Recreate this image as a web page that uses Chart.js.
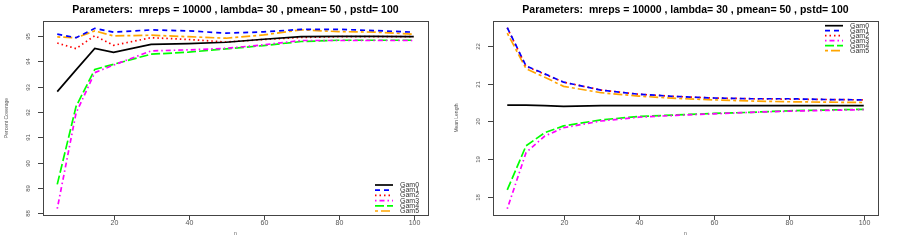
<!DOCTYPE html>
<html>
<head>
<meta charset="utf-8">
<script src="https://cdn.jsdelivr.net/npm/chart.js@4/dist/chart.umd.min.js"></script>
<style>
html,body{margin:0;padding:0;background:#fff;}
#wrap{position:relative;width:900px;height:242px;}
canvas{position:absolute;top:0;}
#c1{left:0;} #c2{left:450px;}
</style>
</head>
<body>
<div id="wrap">
<canvas id="c1" width="450" height="242"></canvas>
<canvas id="c2" width="450" height="242"></canvas>
</div>
<script>
const titleText = "Parameters:  mreps = 10000 , lambda= 30 , pmean= 50 , pstd= 100";
const seriesNames = ["Gam0","Gam1","Gam2","Gam3","Gam4","Gam5"];
const nValues = [5,10,15,20,30,40,50,60,70,80,90,100];
const xTicks = [20,40,60,80,100];
const coverageTicks = [88,89,90,91,92,93,94,95];
const lengthTicks = [18,19,20,21,22];

const coverageGam0 = [92.80,93.66,94.51,94.35,94.67,94.70,94.75,94.87,94.97,94.98,94.98,94.97];
const coverageGam1 = [95.07,94.93,95.30,95.15,95.24,95.20,95.11,95.16,95.26,95.26,95.21,95.15];
const coverageGam2 = [94.72,94.50,95.01,94.63,94.93,94.86,94.76,94.86,94.94,94.97,94.97,94.97];
const coverageGam3 = [88.18,91.95,93.55,93.85,94.41,94.45,94.51,94.65,94.82,94.82,94.82,94.82];
const coverageGam4 = [89.14,92.21,93.68,93.88,94.28,94.36,94.49,94.62,94.78,94.83,94.83,94.83];
const coverageGam5 = [94.96,94.93,95.20,95.00,95.03,94.97,94.91,95.04,95.24,95.17,95.15,95.07];

const lengthGam0 = [20.43,20.43,20.42,20.40,20.42,20.42,20.42,20.42,20.42,20.42,20.42,20.42];
const lengthGam1 = [22.49,21.47,21.26,21.04,20.83,20.72,20.66,20.62,20.60,20.60,20.58,20.57];
const lengthGam2 = [22.48,21.46,21.25,21.04,20.83,20.72,20.66,20.62,20.60,20.59,20.58,20.57];
const lengthGam3 = [17.68,19.17,19.61,19.83,20.01,20.11,20.16,20.20,20.24,20.27,20.29,20.31];
const lengthGam4 = [18.18,19.35,19.70,19.88,20.04,20.13,20.17,20.21,20.24,20.28,20.30,20.32];
const lengthGam5 = [22.34,21.40,21.17,20.93,20.76,20.67,20.61,20.57,20.54,20.52,20.51,20.50];

const colors = ["#000000","#0000ff","#ff0000","#ff00ff","#00ff00","#ffa500"];
const dashes = [[],[5,4],[1.5,3],[1.5,3,5,3],[9,3],[3,3,9,3]];
const FONT = "'Liberation Sans', Arial, sans-serif";

function makeDatasets(arrs){
  return arrs.map((a,i)=>({
    label: seriesNames[i],
    data: nValues.map((n,j)=>({x:n,y:a[j]})),
    borderColor: colors[i],
    borderWidth: 1.7,
    borderDash: dashes[i],
    pointRadius: 0,
    fill: false,
    tension: 0
  }));
}

const decorPlugin = {
  id: 'decor',
  afterDraw(chart, args, opts){
    const ctx = chart.ctx;
    const ca = chart.chartArea;
    const xs = chart.scales.x, ys = chart.scales.y;
    ctx.save();
    ctx.strokeStyle = "#444";
    ctx.lineWidth = 1;
    ctx.setLineDash([]);
    ctx.strokeRect(Math.round(ca.left)+0.5, Math.round(ca.top)+0.5, Math.round(ca.right-ca.left), Math.round(ca.bottom-ca.top));
    ctx.fillStyle = "#555";
    ctx.font = "7px " + FONT;
    ctx.textAlign = "center";
    ctx.textBaseline = "middle";
    xTicks.forEach(v=>{
      const px = Math.round(xs.getPixelForValue(v))+0.5;
      ctx.beginPath(); ctx.moveTo(px, ca.bottom); ctx.lineTo(px, ca.bottom+5); ctx.stroke();
      ctx.fillText(String(v), px, ca.bottom+8);
    });
    ctx.font = "6px " + FONT;
    opts.yTicks.forEach(v=>{
      const py = Math.round(ys.getPixelForValue(v))+0.5;
      ctx.beginPath(); ctx.moveTo(ca.left-5, py); ctx.lineTo(ca.left, py); ctx.stroke();
      ctx.save();
      ctx.translate(ca.left-15, py);
      ctx.rotate(-Math.PI/2);
      ctx.fillText(String(v), 0, 0);
      ctx.restore();
    });
    ctx.font = "5px " + FONT;
    ctx.fillText("n", (ca.left+ca.right)/2, 234);
    ctx.save();
    ctx.translate(7, (ca.top+ca.bottom)/2);
    ctx.rotate(-Math.PI/2);
    ctx.fillText(opts.yTitle, 0, 0);
    ctx.restore();
    ctx.fillStyle = "#000";
    ctx.font = "bold 10.5px " + FONT;
    ctx.fillText(titleText, (ca.left+ca.right)/2, 10);
    const L = opts.legend;
    ctx.font = "7px " + FONT;
    ctx.textAlign = "left";
    chart.data.datasets.forEach((ds,i)=>{
      const y = L.y + i*L.dy;
      ctx.strokeStyle = ds.borderColor;
      ctx.lineWidth = 1.7;
      ctx.setLineDash(ds.borderDash);
      ctx.beginPath(); ctx.moveTo(L.x1, y); ctx.lineTo(L.x2, y); ctx.stroke();
      ctx.setLineDash([]);
      ctx.fillStyle = "#333";
      ctx.fillText(ds.label, L.tx, y);
    });
    ctx.restore();
  }
};

function makeChart(id, arrs, ymin, ymax, yTicks, yTitle, legend){
  return new Chart(document.getElementById(id), {
    type: 'line',
    data: { datasets: makeDatasets(arrs) },
    options: {
      responsive: false,
      animation: false,
      devicePixelRatio: 1,
      layout: { padding: { left: 0, right: 22, top: 21, bottom: 0 } },
      plugins: {
        legend: { display: false },
        tooltip: { enabled: false },
        decor: { yTicks, yTitle, legend }
      },
      scales: {
        x: {
          type: 'linear', min: 1.2, max: 103.8,
          grid: { display: false }, border: { display: false },
          ticks: { display: false },
          afterBuildTicks: s => { s.ticks = xTicks.map(v=>({value:v})); },
          afterFit: s => { s.height = 27; }
        },
        y: {
          type: 'linear', min: ymin, max: ymax,
          grid: { display: false }, border: { display: false },
          ticks: { display: false },
          afterBuildTicks: s => { s.ticks = yTicks.map(v=>({value:v})); },
          afterFit: s => { s.width = 43; }
        }
      }
    },
    plugins: [decorPlugin]
  });
}

makeChart('c1', [coverageGam0,coverageGam1,coverageGam2,coverageGam3,coverageGam4,coverageGam5],
  87.93, 95.59, coverageTicks, "Percent Coverage", {x1:375, x2:393, tx:400, y:185, dy:5.2});
makeChart('c2', [lengthGam0,lengthGam1,lengthGam2,lengthGam3,lengthGam4,lengthGam5],
  17.515, 22.663, lengthTicks, "Mean Length", {x1:375, x2:393, tx:400, y:25.7, dy:5});
</script>
</body>
</html>
